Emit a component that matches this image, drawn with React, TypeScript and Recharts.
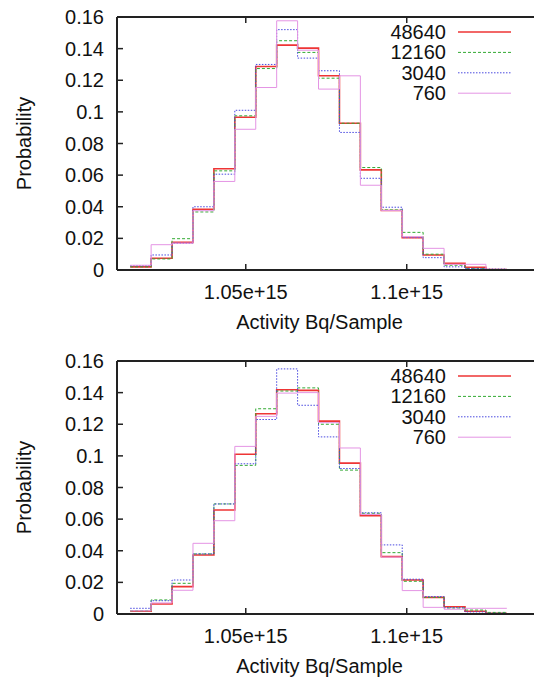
import React from 'react'
import { LineChart, Line, XAxis, YAxis, ReferenceLine, Legend } from 'recharts'

// left edge of each histogram bin (units of 1e15 Bq), last entry closes the final bin
const binEdges = [
  1.0141, 1.0206, 1.0271, 1.0336, 1.0401, 1.0466, 1.0531, 1.0596, 1.0661, 1.0726,
  1.0791, 1.0856, 1.0921, 1.0986, 1.1051, 1.1116, 1.1181, 1.1246, 1.1311,
]
const seriesNames = ['48640', '12160', '3040', '760']

const top48640 = [0.002, 0.0074, 0.0175, 0.0384, 0.064, 0.0966, 0.1287, 0.1422, 0.1403, 0.1228, 0.0928, 0.0633, 0.0376, 0.0205, 0.0095, 0.0042, 0.0017, 0.0003]
const top12160 = [0.002, 0.007, 0.0198, 0.0367, 0.0627, 0.0975, 0.1274, 0.145, 0.1376, 0.1213, 0.0928, 0.0648, 0.038, 0.0238, 0.01, 0.003, 0.001, 0.0002]
const top3040 = [0.0027, 0.0095, 0.017, 0.04, 0.0606, 0.101, 0.13, 0.152, 0.134, 0.126, 0.087, 0.058, 0.0397, 0.0205, 0.0078, 0.002, 0.0009, 0.0006]
const top760 = [0.003, 0.016, 0.017, 0.0375, 0.056, 0.089, 0.1154, 0.1576, 0.139, 0.1144, 0.1228, 0.0536, 0.0376, 0.021, 0.0137, 0.0036, 0.0036, 0]

const bot48640 = [0.0017, 0.0063, 0.0173, 0.0373, 0.0658, 0.101, 0.1266, 0.1418, 0.1414, 0.122, 0.0954, 0.0622, 0.0363, 0.0215, 0.0105, 0.0046, 0.0017, 0.0005]
const bot12160 = [0.002, 0.0089, 0.0194, 0.038, 0.0696, 0.094, 0.1298, 0.141, 0.143, 0.12, 0.091, 0.0637, 0.0388, 0.0207, 0.0105, 0.0038, 0.0025, 0.001]
const bot3040 = [0.0036, 0.0084, 0.0215, 0.038, 0.0696, 0.095, 0.123, 0.155, 0.132, 0.112, 0.092, 0.064, 0.0437, 0.022, 0.011, 0.004, 0.0013, 0.0005]
const bot760 = [0.002, 0.007, 0.015, 0.0447, 0.059, 0.106, 0.125, 0.1397, 0.14, 0.121, 0.105, 0.063, 0.036, 0.0148, 0.0042, 0.003, 0.0036, 0.0036]

const xTicks = [1.05, 1.1]
const yTicks = [0, 0.02, 0.04, 0.06, 0.08, 0.1, 0.12, 0.14, 0.16]

const styles = [
  { color: '#ee3535', width: 1.6, dash: undefined },
  { color: '#33aa33', width: 1, dash: '3 2' },
  { color: '#4a4ae0', width: 1, dash: '1.5 1.5' },
  { color: '#e494e4', width: 1, dash: undefined },
]

const font = '"Liberation Sans", Arial, sans-serif'
const fs = 20
const frame = '#222'
const plotTop = 17
const plotH = 253
const plotLeft = 117

function XTick(props: any) {
  const { x, y, payload } = props
  return (
    <g>
      <line x1={x} x2={x} y1={y} y2={y - 6} stroke={frame} strokeWidth={1.5} />
      <line x1={x} x2={x} y1={y - plotH} y2={y - plotH + 6} stroke={frame} strokeWidth={1.5} />
      <text x={x} y={y + 22} dy="0.35em" textAnchor="middle" fontFamily={font} fontSize={fs} fill="#111">
        {`${payload.value}e+15`}
      </text>
    </g>
  )
}

function YTick(props: any) {
  const { x, y, payload } = props
  return (
    <g>
      <line x1={plotLeft} x2={plotLeft + 6} y1={y} y2={y} stroke={frame} strokeWidth={1.5} />
      <text x={x} y={y} dy="0.35em" textAnchor="end" fontFamily={font} fontSize={fs} fill="#111">
        {String(payload.value)}
      </text>
    </g>
  )
}

function LegendBox() {
  return (
    <svg width={537} height={120}>
      {seriesNames.map((name, i) => {
        const y = plotTop + 15 + i * 20.4
        const s = styles[i]
        return (
          <g key={name}>
            <text x={446} y={y} dy="0.35em" textAnchor="end" fontFamily={font} fontSize={fs} fill="#111">
              {name}
            </text>
            <line x1={458} x2={511} y1={y} y2={y} stroke={s.color} strokeWidth={s.width} strokeDasharray={s.dash} />
          </g>
        )
      })}
    </svg>
  )
}

function HistPanel({ values }: { values: number[][] }) {
  const rows = binEdges.map((edge, i) => {
    const row: any = { edge }
    values.forEach((v, k) => {
      row[seriesNames[k]] = v[Math.min(i, v.length - 1)]
    })
    return row
  })
  return (
    <LineChart width={537} height={334} data={rows} margin={{ top: plotTop, right: 1.5, left: 0, bottom: 0 }}>
      <XAxis
        dataKey="edge"
        type="number"
        domain={[1.01, 1.14]}
        ticks={xTicks}
        allowDataOverflow
        height={64}
        tickSize={0}
        tickMargin={0}
        tickLine={false}
        axisLine={{ stroke: frame, strokeWidth: 2 }}
        tick={(p: any) => <XTick {...p} />}
        label={{
          content: () => (
            <text x={319.5} y={plotTop + plotH + 51.5} dy="0.35em" textAnchor="middle" fontFamily={font} fontSize={fs} fill="#111">
              Activity Bq/Sample
            </text>
          ),
        }}
      />
      <YAxis
        type="number"
        domain={[0, 0.16]}
        ticks={yTicks}
        width={plotLeft}
        tickSize={0}
        tickMargin={13}
        tickLine={false}
        axisLine={{ stroke: frame, strokeWidth: 2 }}
        tick={(p: any) => <YTick {...p} />}
        label={{
          content: () => (
            <text
              x={23.5}
              y={plotTop + plotH / 2}
              dy="0.35em"
              textAnchor="middle"
              transform={`rotate(-90 23.5 ${plotTop + plotH / 2})`}
              fontFamily={font}
              fontSize={fs}
              fill="#111"
            >
              Probability
            </text>
          ),
        }}
      />
      <ReferenceLine y={0.16} stroke={frame} strokeWidth={2} />
      <ReferenceLine x={1.14} stroke={frame} strokeWidth={2} />
      {seriesNames.map((name, i) => (
        <Line
          key={name}
          dataKey={name}
          type="stepAfter"
          stroke={styles[i].color}
          strokeWidth={styles[i].width}
          strokeDasharray={styles[i].dash}
          dot={false}
          isAnimationActive={false}
        />
      ))}
      <Legend
        layout="horizontal"
        verticalAlign="middle"
        align="center"
        wrapperStyle={{ position: 'absolute', left: 0, top: 0, width: 537, height: 120 }}
        content={() => <LegendBox />}
      />
    </LineChart>
  )
}

export default function App() {
  return (
    <div style={{ position: 'absolute', left: 0, top: 0, width: 534, height: 678, overflow: 'hidden', background: '#fff' }}>
      <div style={{ position: 'absolute', left: 0, top: 0 }}>
        <HistPanel values={[top48640, top12160, top3040, top760]} />
      </div>
      <div style={{ position: 'absolute', left: 0, top: 344 }}>
        <HistPanel values={[bot48640, bot12160, bot3040, bot760]} />
      </div>
    </div>
  )
}
